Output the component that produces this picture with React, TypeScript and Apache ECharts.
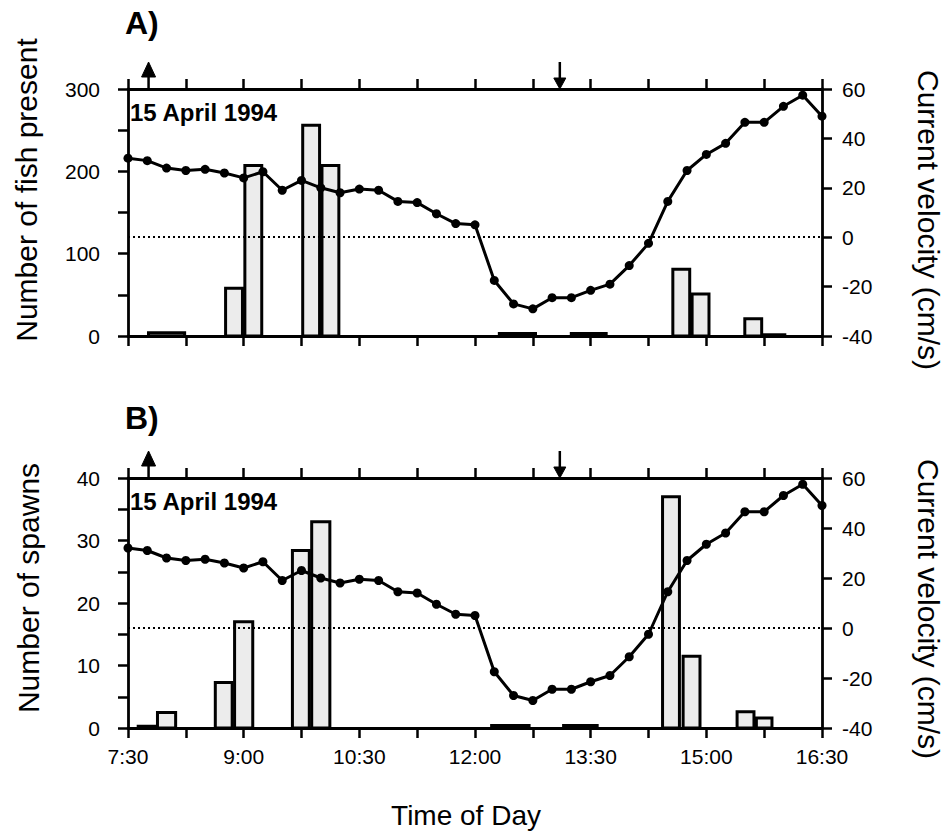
import React, { useEffect, useRef } from "react";
import * as echarts from "echarts";

// ---- Data ----
// Current velocity (cm/s), one reading every 15 minutes (same record in both panels)
const velocityTimes = [
  "7:30", "7:45", "8:00", "8:15", "8:30", "8:45", "9:00", "9:15", "9:30", "9:45",
  "10:00", "10:15", "10:30", "10:45", "11:00", "11:15", "11:30", "11:45", "12:00", "12:15",
  "12:30", "12:45", "13:00", "13:15", "13:30", "13:45", "14:00", "14:15", "14:30", "14:45",
  "15:00", "15:15", "15:30", "15:45", "16:00", "16:15", "16:30",
];
const velocity = [
  32, 31, 28, 27, 27.5, 26, 24, 26.5, 19, 23,
  20, 18, 19.5, 19, 14.5, 14, 9.5, 5.5, 5, -17.5,
  -27, -29, -24.5, -24.5, -21.5, -19, -11.5, -2.5, 14.5, 27,
  33.5, 38, 46.5, 46.5, 53, 57.5, 49,
];

// Panel A: number of fish present (interval start, interval end, count)
const fishStart = ["7:45", "8:45", "9:00", "9:45", "10:00", "12:18", "13:14", "14:33", "14:48", "15:29", "15:44"];
const fishEnd = ["8:15", "9:00", "9:15", "10:00", "10:15", "12:48", "13:43", "14:48", "15:03", "15:44", "16:02"];
const fishCount = [4, 58, 207, 256, 207, 3, 3, 81, 51, 21, 1.5];

// Panel B: number of spawns
const spawnStart = ["7:37", "7:52", "8:37", "8:52", "9:37", "9:52", "12:12", "13:08", "14:25", "14:41", "15:23", "15:38"];
const spawnEnd = ["7:52", "8:08", "8:52", "9:08", "9:52", "10:08", "12:43", "13:36", "14:40", "14:56", "15:38", "15:52"];
const spawnCount = [0.3, 2.5, 7.3, 17, 28.4, 33, 0.4, 0.4, 37, 11.5, 2.6, 1.6];

// Arrows on the top axis (time, direction: 1 = up, -1 = down)
const arrowTimes = ["7:46", "13:06"];
const arrowDirs = [1, -1];

// Axis settings
const timeMin = 7.5;
const timeMax = 16.5;
const timeStep = 0.75;
const fishTicks = { min: 0, max: 300, step: 50, labelEvery: 100 };
const spawnTicks = { min: 0, max: 40, step: 5, labelEvery: 10 };
const velTicks = { min: -40, max: 60, step: 20 };

const dateLabel = "15 April 1994";

// ---- Helpers ----
const toHours = (s: string) => {
  const [h, m] = s.split(":").map(Number);
  return h + m / 60;
};

const FONT = "'Liberation Sans', Arial, Helvetica, sans-serif";

export default function App() {
  const ref = useRef<HTMLDivElement>(null);

  useEffect(() => {
    if (!ref.current) return;
    const chart = echarts.init(ref.current, undefined, { renderer: "svg" });

    const velData = velocityTimes.map((t, i) => [toHours(t), velocity[i]]);
    const fishData = fishStart.map((s, i) => [toHours(s), toHours(fishEnd[i]), fishCount[i]]);
    const spawnData = spawnStart.map((s, i) => [toHours(s), toHours(spawnEnd[i]), spawnCount[i]]);
    const arrowData = arrowTimes.map((t, i) => [toHours(t), arrowDirs[i]]);

    const timeFmt = (v: number) => {
      const idx = Math.round((v - timeMin) / timeStep);
      if (idx % 2 !== 0) return "";
      const h = Math.floor(v + 1e-6);
      const m = Math.round((v - h) * 60);
      return `${h}:${String(m).padStart(2, "0")}`;
    };

    const axisLine = { show: true, onZero: false, lineStyle: { color: "#000", width: 2.8 } };
    const axisTick = { show: true, inside: false, length: 10, lineStyle: { color: "#000", width: 2.5 } };
    const labelStyle = { color: "#000", fontSize: 21, fontFamily: FONT };

    const xAxisBase = (grid: number, position: string, showLabels: boolean) => ({
      type: "value",
      gridIndex: grid,
      position,
      min: timeMin,
      max: timeMax,
      interval: timeStep,
      axisLine,
      axisTick,
      splitLine: { show: false },
      axisLabel: showLabels
        ? { ...labelStyle, margin: 18, formatter: timeFmt }
        : { show: false },
    });

    const leftAxis = (grid: number, t: any) => ({
      type: "value",
      gridIndex: grid,
      position: "left",
      min: t.min,
      max: t.max,
      interval: t.step,
      axisLine,
      axisTick,
      splitLine: { show: false },
      axisLabel: {
        ...labelStyle,
        margin: 28,
        formatter: (v: number) => (v % t.labelEvery === 0 ? String(v) : ""),
      },
    });

    const rightAxis = (grid: number) => ({
      type: "value",
      gridIndex: grid,
      position: "right",
      min: velTicks.min,
      max: velTicks.max,
      interval: velTicks.step,
      axisLine,
      axisTick,
      splitLine: { show: false },
      axisLabel: { ...labelStyle, margin: 20 },
    });

    const barRender = (params: any, api: any) => {
      const s = api.value(0);
      const e = api.value(1);
      const v = api.value(2);
      const p0 = api.coord([s, v]);
      const p1 = api.coord([e, 0]);
      return {
        type: "rect",
        shape: { x: p0[0] + 1.2, y: p0[1], width: p1[0] - p0[0] - 2.4, height: p1[1] - p0[1] },
        style: { fill: "#ececec", stroke: "#000", lineWidth: 3 },
      };
    };

    const arrowRender = (params: any, api: any) => {
      const t = api.value(0);
      const dir = api.value(1);
      const x = api.coord([t, 0])[0];
      const y0 = params.coordSys.y;
      const black = { fill: "#000", stroke: "#000" };
      if (dir > 0) {
        return {
          type: "group",
          children: [
            { type: "line", shape: { x1: x, y1: y0 - 14, x2: x, y2: y0 }, style: { stroke: "#000", lineWidth: 2.5 } },
            { type: "polygon", shape: { points: [[x, y0 - 27], [x - 7, y0 - 12], [x + 7, y0 - 12]] }, style: black },
          ],
        };
      }
      return {
        type: "group",
        children: [
          { type: "line", shape: { x1: x, y1: y0 - 27, x2: x, y2: y0 - 8 }, style: { stroke: "#000", lineWidth: 2.5 } },
          { type: "polygon", shape: { points: [[x - 6, y0 - 11], [x + 6, y0 - 11], [x, y0]] }, style: black },
        ],
      };
    };

    const velSeries = (xIdx: number, yIdx: number) => ({
      type: "line",
      xAxisIndex: xIdx,
      yAxisIndex: yIdx,
      data: velData,
      symbol: "circle",
      symbolSize: 9,
      itemStyle: { color: "#000" },
      lineStyle: { color: "#000", width: 3 },
      z: 5,
      markLine: {
        silent: true,
        symbol: "none",
        label: { show: false },
        lineStyle: { type: [2, 3], color: "#000", width: 1.8 },
        data: [{ yAxis: 0 }],
      },
    });

    const option: any = {
      animation: false,
      backgroundColor: "#fff",
      grid: [
        { left: 128, top: 89, width: 694, height: 247 },
        { left: 128, top: 478, width: 694, height: 250 },
      ],
      xAxis: [
        xAxisBase(0, "bottom", false),
        xAxisBase(0, "top", false),
        xAxisBase(1, "bottom", true),
        xAxisBase(1, "top", false),
      ],
      yAxis: [leftAxis(0, fishTicks), rightAxis(0), leftAxis(1, spawnTicks), rightAxis(1)],
      series: [
        {
          type: "custom",
          xAxisIndex: 0,
          yAxisIndex: 0,
          data: fishData,
          renderItem: barRender,
          encode: { x: [0, 1], y: 2 },
          z: 2,
        },
        velSeries(0, 1),
        {
          type: "custom",
          xAxisIndex: 0,
          yAxisIndex: 0,
          data: arrowData,
          renderItem: arrowRender,
          encode: { x: 0 },
          clip: false,
        },
        {
          type: "custom",
          xAxisIndex: 2,
          yAxisIndex: 2,
          data: spawnData,
          renderItem: barRender,
          encode: { x: [0, 1], y: 2 },
          z: 2,
        },
        velSeries(2, 3),
        {
          type: "custom",
          xAxisIndex: 2,
          yAxisIndex: 2,
          data: arrowData,
          renderItem: arrowRender,
          encode: { x: 0 },
          clip: false,
        },
      ],
      graphic: [
        { type: "text", x: 125, y: 23, style: { text: "A)", font: `bold 32px ${FONT}`, fill: "#000", align: "left", verticalAlign: "middle" } },
        { type: "text", x: 125, y: 418, style: { text: "B)", font: `bold 32px ${FONT}`, fill: "#000", align: "left", verticalAlign: "middle" } },
        { type: "text", x: 130, y: 112, style: { text: dateLabel, font: `bold 24px ${FONT}`, fill: "#000", align: "left", verticalAlign: "middle" } },
        { type: "text", x: 130, y: 501, style: { text: dateLabel, font: `bold 24px ${FONT}`, fill: "#000", align: "left", verticalAlign: "middle" } },
        { type: "text", x: 26, y: 190, rotation: Math.PI / 2, style: { text: "Number of fish present", font: `30px ${FONT}`, fill: "#000", align: "center", verticalAlign: "middle" } },
        { type: "text", x: 28, y: 588, rotation: Math.PI / 2, style: { text: "Number of spawns", font: `30px ${FONT}`, fill: "#000", align: "center", verticalAlign: "middle" } },
        { type: "text", x: 928, y: 220, rotation: -Math.PI / 2, style: { text: "Current velocity (cm/s)", font: `30px ${FONT}`, fill: "#000", align: "center", verticalAlign: "middle" } },
        { type: "text", x: 928, y: 609, rotation: -Math.PI / 2, style: { text: "Current velocity (cm/s)", font: `30px ${FONT}`, fill: "#000", align: "center", verticalAlign: "middle" } },
        { type: "text", x: 466, y: 815, style: { text: "Time of Day", font: `28px ${FONT}`, fill: "#000", align: "center", verticalAlign: "middle" } },
      ],
    };

    chart.setOption(option);
    return () => chart.dispose();
  }, []);

  return (
    <div
      ref={ref}
      style={{ position: "absolute", left: 0, top: 0, width: 946, height: 835, background: "#fff" }}
    />
  );
}
